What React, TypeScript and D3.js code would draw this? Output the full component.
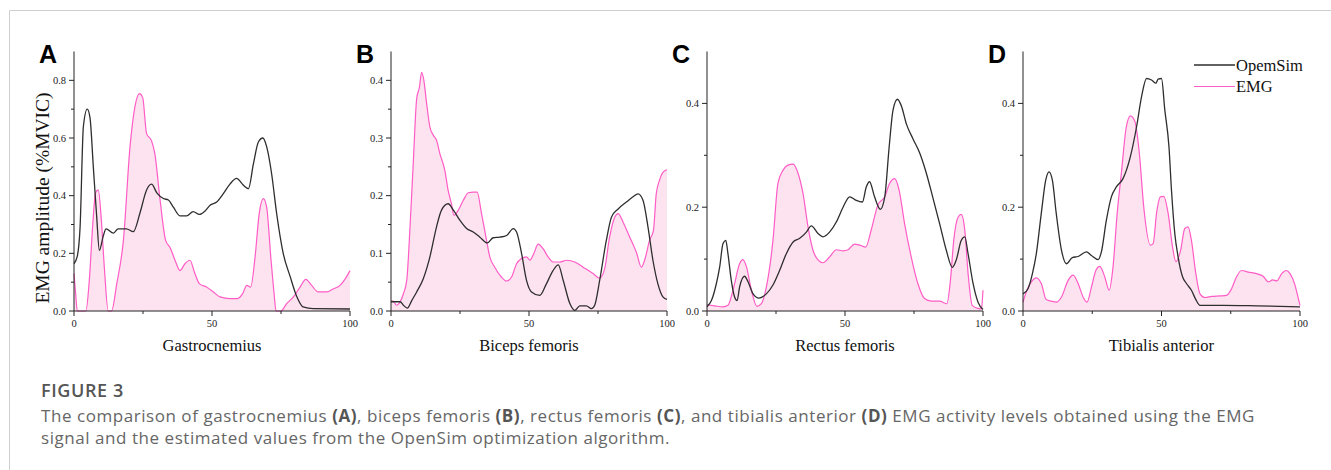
import React from 'react';
import * as d3 from 'd3';

type Pt = [number, number];

// gait cycle (%) / amplitude (%MVIC) pairs
const gastroSim: Pt[] = [
  [0, 0.164], [1.2, 0.19], [2.2, 0.29], [3.4, 0.64], [4.8, 0.7], [5.8, 0.67], [7, 0.5], [8.2, 0.33],
  [9.2, 0.21], [10.6, 0.26], [11.6, 0.285], [14.3, 0.27], [16, 0.285], [19, 0.285], [21.5, 0.275],
  [23.9, 0.34], [26.3, 0.42], [28.1, 0.44], [30, 0.41], [32.4, 0.39], [34.2, 0.385], [36, 0.36],
  [38.4, 0.33], [40.8, 0.33], [43.2, 0.345], [45.4, 0.335], [47.5, 0.347], [49.3, 0.367],
  [51.7, 0.378], [54.1, 0.407], [56.5, 0.44], [58.9, 0.46], [61.4, 0.436], [63.2, 0.424], [65, 0.51],
  [66.8, 0.586], [68.4, 0.6], [69.8, 0.57], [71.6, 0.476], [73.4, 0.34], [75.8, 0.2], [78.3, 0.12],
  [80.7, 0.05], [83, 0.014], [86.7, 0.008], [100, 0.007],
];
const gastroEmg: Pt[] = [
  [0, 0.13], [0.6, 0.06], [1.2, 0], [4.3, 0], [5.5, 0.1], [6.8, 0.3], [7.8, 0.41], [8.8, 0.42],
  [9.8, 0.33], [11, 0.15], [12.4, 0], [13.6, 0], [15.5, 0.095], [17.9, 0.245], [20.3, 0.57],
  [22.1, 0.71], [23.7, 0.754], [24.9, 0.74], [26.3, 0.615], [28.1, 0.59], [29.3, 0.545], [31.2, 0.384],
  [33.2, 0.245], [34.8, 0.22], [36.6, 0.176], [38.4, 0.14], [40.2, 0.164], [42, 0.176], [43.8, 0.13],
  [45.4, 0.095], [48, 0.083], [50.5, 0.066], [52.9, 0.049], [56.5, 0.043], [59.2, 0.043], [61.1, 0.06],
  [62.6, 0.089], [64, 0.083], [65.6, 0.187], [67.1, 0.338], [68.6, 0.39], [69.8, 0.36], [71.3, 0.187],
  [72.5, 0.06], [73.2, 0], [75, 0], [77, 0.025], [79.5, 0.049], [81.9, 0.083], [84, 0.11], [86.1, 0.089],
  [88.5, 0.066], [91.5, 0.066], [94, 0.077], [96.4, 0.089], [98.5, 0.115], [100, 0.14],
];

const bicepsSim: Pt[] = [
  [0, 0.016], [3.3, 0.016], [4.5, 0.01], [5.9, 0.005], [7.5, 0.018], [9.3, 0.033], [11.7, 0.056],
  [14.1, 0.094], [16.5, 0.146], [18.3, 0.175], [20.7, 0.186], [22.6, 0.175], [25, 0.157], [27.4, 0.143],
  [29.8, 0.137], [32.2, 0.128], [34.9, 0.118], [37, 0.127], [39.4, 0.128], [41.9, 0.131], [44.3, 0.143],
  [45.5, 0.137], [47.3, 0.1], [49.1, 0.053], [50.9, 0.033], [53.9, 0.027], [56.3, 0.047], [58.7, 0.07],
  [60.6, 0.08], [62.4, 0.053], [64.8, 0.013], [66.6, 0.001], [68.4, 0.009], [70.8, 0.009], [72.6, 0.004],
  [73.8, 0.01], [75.6, 0.053], [78, 0.122], [79.9, 0.163], [82.3, 0.177], [85.3, 0.189], [87.7, 0.198],
  [89.5, 0.203], [91.3, 0.192], [93.1, 0.146], [94.9, 0.088], [96.7, 0.047], [98.6, 0.024], [100, 0.02],
];
const bicepsEmg: Pt[] = [
  [0, 0.017], [0.8, 0.017], [2, 0.01], [3.3, 0.016], [4.5, 0.03], [5.7, 0.053], [6.9, 0.146],
  [8.1, 0.26], [9.3, 0.368], [10.3, 0.388], [11.1, 0.414], [11.9, 0.4], [12.9, 0.36], [14.1, 0.319],
  [15.3, 0.305], [16.5, 0.296], [17.7, 0.273], [19.5, 0.244], [20.7, 0.209], [21.9, 0.186], [22.8, 0.166],
  [24.4, 0.175], [26.2, 0.192], [28, 0.205], [29.8, 0.206], [31.2, 0.206], [32.8, 0.169], [34.6, 0.123],
  [35.8, 0.094], [37.6, 0.076], [40, 0.059], [41.9, 0.052], [43.7, 0.059], [45.5, 0.082], [47.3, 0.091],
  [49.1, 0.094], [50.3, 0.088], [51.7, 0.099], [53.3, 0.116], [55.1, 0.108], [56.9, 0.094], [58.7, 0.085],
  [61.2, 0.085], [63.6, 0.088], [66.6, 0.085], [69.6, 0.076], [73.2, 0.065], [75.6, 0.057], [77.4, 0.073],
  [79.2, 0.128], [81.1, 0.163], [82.3, 0.169], [84.1, 0.154], [86.5, 0.128], [88.9, 0.102], [90.7, 0.076],
  [91.9, 0.088], [93.7, 0.123], [95.1, 0.14], [96.1, 0.203], [97.3, 0.227], [98.6, 0.241], [100, 0.245],
];

const rectusSim: Pt[] = [
  [0, 0.008], [1.6, 0.02], [3.4, 0.053], [4.6, 0.085], [5.8, 0.13], [6.8, 0.136], [7.6, 0.11], [8.8, 0.059],
  [10, 0.027], [10.9, 0.02], [11.8, 0.046], [13.6, 0.067], [14.9, 0.056], [16.7, 0.033], [18.8, 0.025],
  [21.5, 0.033], [23.9, 0.05], [26.3, 0.078], [28.7, 0.11], [31.2, 0.133], [33.6, 0.14], [36, 0.152],
  [37.8, 0.164], [40.3, 0.149], [42, 0.143], [44.4, 0.152], [46.9, 0.172], [49.3, 0.2], [51.7, 0.22],
  [54.1, 0.213], [56.3, 0.21], [57.7, 0.239], [58.9, 0.249], [60.7, 0.22], [62.8, 0.196], [64.4, 0.22],
  [66, 0.316], [67.4, 0.387], [69, 0.408], [70.5, 0.394], [72.2, 0.361], [74.6, 0.332], [77.1, 0.304],
  [79.5, 0.265], [81.9, 0.217], [84.3, 0.168], [86.7, 0.117], [88.9, 0.084], [90.3, 0.098], [92.1, 0.136],
  [93.4, 0.143], [94.6, 0.11], [96.4, 0.053], [98.2, 0.017], [100, 0.003],
];
const rectusEmg: Pt[] = [
  [0, 0.012], [2.8, 0.01], [5.8, 0.008], [7.6, 0.011], [9.7, 0.046], [11.8, 0.091], [13, 0.099],
  [14.3, 0.085], [16.1, 0.04], [18.1, 0.009], [19.7, 0.014], [21.5, 0.046], [23.9, 0.136], [25.7, 0.246],
  [27.5, 0.271], [29.3, 0.281], [31.2, 0.283], [33, 0.265], [34.8, 0.226], [36.6, 0.162], [38.4, 0.117],
  [40.3, 0.098], [42, 0.093], [44.4, 0.104], [46.9, 0.118], [49.3, 0.116], [51.1, 0.118], [53.5, 0.129],
  [55.3, 0.127], [57.5, 0.123], [59.5, 0.156], [61.9, 0.204], [64.4, 0.22], [66.2, 0.246], [68, 0.255],
  [69.6, 0.233], [71.6, 0.168], [74, 0.104], [76.4, 0.053], [78.8, 0.024], [81.3, 0.019], [84.3, 0.019],
  [86.9, 0.014], [88.2, 0.059], [89.4, 0.136], [91, 0.181], [92.1, 0.186], [93.4, 0.156], [94.6, 0.072],
  [96.1, 0.011], [98.2, 0.005], [99.4, 0.004], [100, 0.04],
];

const tibialisSim: Pt[] = [
  [0, 0.033], [1.8, 0.043], [3.4, 0.072], [4.8, 0.11], [6.6, 0.188], [8.2, 0.252], [9.4, 0.268],
  [10.6, 0.252], [12, 0.188], [13.9, 0.117], [15.7, 0.091], [17.8, 0.103], [19.9, 0.105], [22.9, 0.114],
  [24.7, 0.107], [27.1, 0.099], [28.3, 0.114], [30.1, 0.175], [31.9, 0.22], [33.7, 0.239], [36.1, 0.255],
  [38.6, 0.294], [41, 0.355], [42.8, 0.413], [44.6, 0.448], [46.4, 0.445], [48, 0.439], [48.8, 0.447],
  [50, 0.448], [51.2, 0.387], [52.7, 0.316], [53.6, 0.233], [54.8, 0.149], [56, 0.104], [57.6, 0.066],
  [59, 0.053], [60.8, 0.04], [62.4, 0.022], [63.9, 0.011], [72.3, 0.011], [84.3, 0.01], [100, 0.008],
];
const tibialisEmg: Pt[] = [
  [0, 0.017], [1.4, 0.04], [3, 0.056], [4.8, 0.064], [6.6, 0.053], [8.4, 0.022], [10.2, 0.019], [12, 0.017],
  [13.9, 0.027], [16.3, 0.059], [18.1, 0.069], [19.9, 0.053], [21.7, 0.027], [23.1, 0.017], [24.7, 0.046],
  [26.3, 0.078], [27.7, 0.086], [29.5, 0.066], [31.1, 0.04], [32.5, 0.085], [34, 0.188], [35.5, 0.265],
  [37.3, 0.355], [38.8, 0.376], [40.4, 0.365], [42, 0.304], [43.6, 0.2], [46, 0.127], [47, 0.13],
  [48.2, 0.188], [49.6, 0.22], [50.8, 0.221], [52.4, 0.188], [54, 0.123], [55.2, 0.095], [56.9, 0.117],
  [58.4, 0.159], [59.6, 0.162], [60.8, 0.136], [62.4, 0.072], [63.9, 0.033], [65.7, 0.026], [68.1, 0.028],
  [71.1, 0.029], [73.5, 0.03], [75.3, 0.043], [77.1, 0.066], [78.9, 0.078], [81.3, 0.075], [84.3, 0.072],
  [86.7, 0.067], [88.6, 0.056], [90.1, 0.06], [91.6, 0.058], [93.4, 0.072], [95, 0.078], [96.4, 0.072],
  [98.2, 0.05], [99.4, 0.024], [100, 0.011],
];

const panelLetters = ['A', 'B', 'C', 'D'];
const muscleNames = ['Gastrocnemius', 'Biceps femoris', 'Rectus femoris', 'Tibialis anterior'];
const yMaxes = [0.9, 0.45, 0.5, 0.5];
const yMajorTicks = [
  [0, 0.2, 0.4, 0.6, 0.8],
  [0, 0.1, 0.2, 0.3, 0.4],
  [0, 0.2, 0.4],
  [0, 0.2, 0.4],
];
const yMinorTicks = [
  [0.1, 0.3, 0.5, 0.7],
  [0.05, 0.15, 0.25, 0.35],
  [0.1, 0.3],
  [0.1, 0.3],
];
const xMajorTicks = [0, 50, 100];
const xMinorTicks = [25, 75];
const seriesNames = ['OpemSim', 'EMG'];

const captionTitle = 'FIGURE 3';
const captionLine2 = 'signal and the estimated values from the OpenSim optimization algorithm.';

const SIM_COLOR = '#2e2e2e';
const EMG_COLOR = '#ff5cc6';
const EMG_FILL = '#fde3f0';
const SERIF = '"Liberation Serif", "Times New Roman", serif';
const SANS = '"Liberation Sans", Arial, sans-serif';
const CAPTION_FONT = '"Open Sans", "Noto Sans", sans-serif';

const panelX: [number, number][] = [[74, 350], [391, 667], [707, 983], [1023, 1300]];
const yBottom = 311;
const yTop = 51.5;

function Panel({ i, sim, emg }: { i: number; sim: Pt[]; emg: Pt[] }) {
  const [x0, x1] = panelX[i];
  const x = d3.scaleLinear().domain([0, 100]).range([x0, x1]);
  const y = d3.scaleLinear().domain([0, yMaxes[i]]).range([yBottom, yTop]);
  const line = d3.line<Pt>().x(d => x(d[0])).y(d => y(d[1])).curve(d3.curveMonotoneX);
  const area = d3
    .area<Pt>()
    .x(d => x(d[0]))
    .y0(y(0))
    .y1(d => y(d[1]))
    .curve(d3.curveMonotoneX);
  const fmt = d3.format('.1f');
  return (
    <g>
      <path d={area(emg) || ''} fill={EMG_FILL} />
      <path d={line(emg) || ''} fill="none" stroke={EMG_COLOR} strokeWidth={1.2} />
      <path d={line(sim) || ''} fill="none" stroke={SIM_COLOR} strokeWidth={1.3} />
      {/* axes */}
      <line x1={x0} x2={x0} y1={yTop} y2={yBottom} stroke="#222" strokeWidth={1} />
      <line x1={x0} x2={x1} y1={yBottom} y2={yBottom} stroke="#222" strokeWidth={1} />
      {yMajorTicks[i].map(t => (
        <g key={'ym' + t}>
          <line x1={x0 - 5} x2={x0} y1={y(t)} y2={y(t)} stroke="#222" />
          <text x={x0 - 8} y={y(t) + 3.5} textAnchor="end" fontSize={10.5} fontFamily={SERIF} fill="#222">
            {fmt(t)}
          </text>
        </g>
      ))}
      {yMinorTicks[i].map(t => (
        <line key={'yn' + t} x1={x0 - 3} x2={x0} y1={y(t)} y2={y(t)} stroke="#222" />
      ))}
      {xMajorTicks.map(t => (
        <g key={'xm' + t}>
          <line x1={x(t)} x2={x(t)} y1={yBottom} y2={yBottom + 5} stroke="#222" />
          <text x={x(t)} y={yBottom + 16} textAnchor="middle" fontSize={10.5} fontFamily={SERIF} fill="#222">
            {t}
          </text>
        </g>
      ))}
      {xMinorTicks.map(t => (
        <line key={'xn' + t} x1={x(t)} x2={x(t)} y1={yBottom} y2={yBottom + 3} stroke="#222" />
      ))}
      <text x={(x0 + x1) / 2} y={351} textAnchor="middle" fontSize={16.5} fontFamily={SERIF} fill="#111">
        {muscleNames[i]}
      </text>
      <text x={x0 - 35} y={63} fontSize={25} fontWeight="bold" fontFamily={SANS} fill="#000">
        {panelLetters[i]}
      </text>
    </g>
  );
}

export default function App() {
  const sims = [gastroSim, bicepsSim, rectusSim, tibialisSim];
  const emgs = [gastroEmg, bicepsEmg, rectusEmg, tibialisEmg];
  const bold = { fontWeight: 700, fill: '#555' };
  return (
    <svg
      width={1331}
      height={470}
      style={{ position: 'absolute', left: 0, top: 0, background: '#fff' }}
    >
      <rect x={0} y={0} width={1331} height={470} fill="#fff" />
      <line x1={9.5} x2={1331} y1={10.5} y2={10.5} stroke="#cfcfcf" />
      <line x1={9.5} x2={9.5} y1={10.5} y2={470} stroke="#cfcfcf" />
      {sims.map((s, i) => (
        <Panel key={i} i={i} sim={s} emg={emgs[i]} />
      ))}
      <text
        transform="translate(49,198) rotate(-90)"
        textAnchor="middle"
        fontSize={19.5}
        fontFamily={SERIF}
        fill="#111"
      >
        EMG amplitude (%MVIC)
      </text>
      {/* legend */}
      <line x1={1194} x2={1235} y1={65} y2={65} stroke={SIM_COLOR} strokeWidth={1.3} />
      <text x={1236} y={71} fontSize={16.5} fontFamily={SERIF} fill="#111">{seriesNames[0]}</text>
      <line x1={1194} x2={1235} y1={86.5} y2={86.5} stroke={EMG_COLOR} strokeWidth={1.2} />
      <text x={1236} y={92} fontSize={16.5} fontFamily={SERIF} fill="#111">{seriesNames[1]}</text>
      {/* caption */}
      <text x={41} y={397} fontSize={18} letterSpacing={0.6} fontFamily={CAPTION_FONT} fontWeight={600} fill="#555">
        {captionTitle}
      </text>
      <text x={41} y={422} fontSize={17} letterSpacing={0.55} fontFamily={CAPTION_FONT} fill="#666">
        The comparison of gastrocnemius <tspan style={bold}>(A)</tspan>, biceps femoris{' '}
        <tspan style={bold}>(B)</tspan>, rectus femoris <tspan style={bold}>(C)</tspan>, and tibialis anterior{' '}
        <tspan style={bold}>(D)</tspan> EMG activity levels obtained using the EMG
      </text>
      <text x={41} y={444} fontSize={17} letterSpacing={0.55} fontFamily={CAPTION_FONT} fill="#666">
        {captionLine2}
      </text>
    </svg>
  );
}
